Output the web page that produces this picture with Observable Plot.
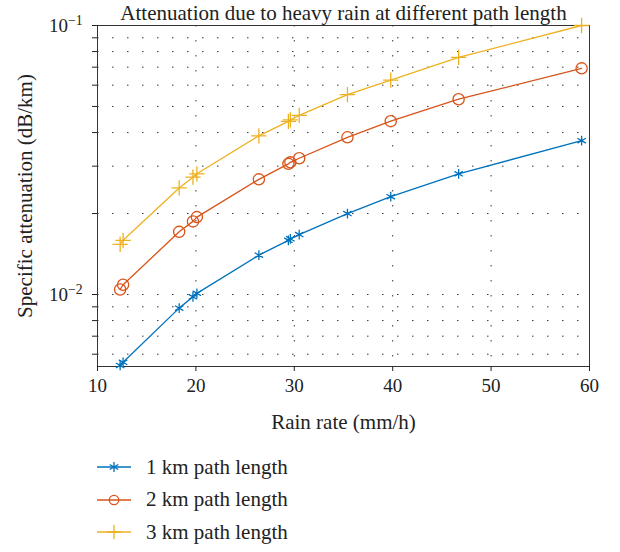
<!DOCTYPE html>
<html><head><meta charset="utf-8">
<script src="https://cdn.jsdelivr.net/npm/d3@7"></script>
<script src="https://cdn.jsdelivr.net/npm/@observablehq/plot@0.6"></script>
<style>
body{margin:0;background:#fff;font-family:"Liberation Serif",serif;}
#chart{position:relative;width:620px;height:552px;background:#fff;}
#legend{position:absolute;left:0;top:440px;}
.row{position:absolute;left:90px;height:24px;display:flex;align-items:center;white-space:nowrap;}
.row span{font-size:21px;color:#222;margin-left:12px;}
</style></head><body><div id="chart"><div id="legend"></div></div>
<script>
const chartTitle = "Attenuation due to heavy rain at different path length";
const rainRate = [12.3, 12.6, 18.3, 19.7, 20.1, 26.4, 29.4, 29.6, 30.5, 35.4, 39.8, 46.7, 59.2];
const att1km = [0.00545, 0.0056, 0.0089, 0.0098, 0.0101, 0.0140, 0.0159, 0.0161, 0.0167, 0.0200, 0.0231, 0.0281, 0.0373];
const att2km = [0.01044, 0.01087, 0.0171, 0.0187, 0.0194, 0.0268, 0.0306, 0.0310, 0.0321, 0.0384, 0.0441, 0.0532, 0.0693];
const att3km = [0.01535, 0.0159, 0.0249, 0.0273, 0.0281, 0.0389, 0.0440, 0.0446, 0.0463, 0.0553, 0.0627, 0.0761, 0.100];
const seriesNames = ["1 km path length", "2 km path length", "3 km path length"];
const seriesColors = ["#0072BD", "#D95319", "#EDB120"];
const seriesSymbols = ["asterisk", "circle", "plus"];
const seriesMarkerR = [4.6, 5.6, 5];
const xTicks = [10, 20, 30, 40, 50, 60];
const xGrid = [20, 30, 40, 50];
const yTicks = [0.006, 0.007, 0.008, 0.009, 0.01, 0.02, 0.03, 0.04, 0.05, 0.06, 0.07, 0.08, 0.09, 0.1];
const yLabels = {0.01: "10^-2", 0.1: "10^-1"};

const seriesValues = [att1km, att2km, att3km];
const data = [];
seriesNames.forEach((s, i) => rainRate.forEach((x, j) => data.push({series: s, x, y: seriesValues[i][j], r: seriesMarkerR[i]})));

const grid = {stroke: "#222", strokeOpacity: 0.9, strokeWidth: 1, strokeDasharray: "1.5,13.5"};
const plot = Plot.plot({
  width: 620, height: 440,
  marginTop: 25, marginBottom: 74, marginLeft: 97, marginRight: 31,
  style: {fontFamily: "'Liberation Serif', serif", fontSize: "19px", color: "#222", background: "white"},
  x: {domain: [10, 60]},
  y: {type: "log", domain: [0.0054, 0.1]},
  r: {type: "identity"},
  color: {domain: seriesNames, range: seriesColors},
  symbol: {domain: seriesNames, range: seriesSymbols},
  marks: [
    Plot.gridY(yTicks, grid),
    Plot.gridX(xGrid, grid),
    Plot.frame({stroke: "#333", strokeWidth: 1}),
    Plot.axisX({ticks: xTicks, tickSize: 5, tickPadding: 7, fontSize: 19, label: null}),
    Plot.axisX({ticks: [], tickSize: 0, label: "Rain rate (mm/h)", labelAnchor: "center", labelOffset: 62, labelArrow: "none", fontSize: 21}),
    Plot.axisY({ticks: yTicks, tickSize: 5, tickPadding: 10, fontSize: 19, tickFormat: d => yLabels[d] || "", label: null}),
    Plot.axisY({ticks: [], tickSize: 0, label: "Specific attenuation (dB/km)", labelAnchor: "center", labelOffset: 80, labelArrow: "none", fontSize: 21}),
    Plot.line(data, {x: "x", y: "y", z: "series", stroke: "series", strokeWidth: 1.3}),
    Plot.dot(data, {x: "x", y: "y", r: "r", stroke: "series", symbol: "series", strokeWidth: 1.3, fill: "none"}),
    Plot.text([chartTitle], {frameAnchor: "top", lineAnchor: "bottom", dy: -6, fontSize: 21, fill: "#222"})
  ]
});
document.getElementById("chart").prepend(plot);

// render exponent tick labels with superscripts
d3.select(plot).selectAll("text").each(function() {
  const t = this.textContent;
  const m = /^10\^(-\d)$/.exec(t);
  if (m && this.children.length === 0) {
    const el = d3.select(this);
    el.text("10");
    el.append("tspan").attr("dy", "-0.5em").attr("font-size", "0.72em").text(m[1].replace("-", "−"));
  }
});

const legend = d3.select("#legend");
seriesNames.forEach((name, i) => {
  const row = legend.append("div").attr("class", "row").style("top", (15 + i * 32.5) + "px");
  const svg = row.append("svg").attr("width", 44).attr("height", 24);
  svg.append("line").attr("x1", 7).attr("x2", 41).attr("y1", 12).attr("y2", 12)
    .attr("stroke", seriesColors[i]).attr("stroke-width", 1.5);
  const sym = {asterisk: d3.symbolAsterisk, circle: d3.symbolCircle, plus: d3.symbolPlus}[seriesSymbols[i]];
  svg.append("path").attr("transform", "translate(24,12)")
    .attr("d", d3.symbol(sym, 70)())
    .attr("fill", "none").attr("stroke", seriesColors[i]).attr("stroke-width", 1.3);
  row.append("span").text(name);
});
</script>
</body></html>
